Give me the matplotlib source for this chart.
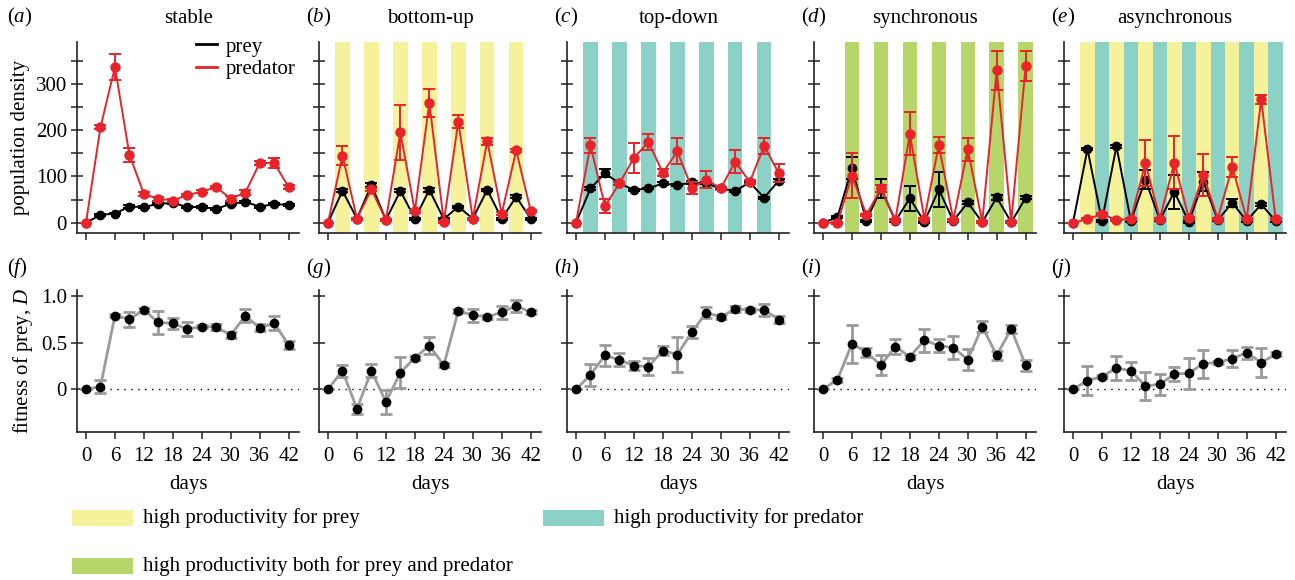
import matplotlib
matplotlib.use("Agg")
import matplotlib.pyplot as plt
from matplotlib.patches import Rectangle
import numpy as np

plt.rcParams['font.family'] = ['Liberation Serif', 'DejaVu Serif']
plt.rcParams['mathtext.fontset'] = 'custom'
plt.rcParams['mathtext.it'] = 'Liberation Serif:italic'
plt.rcParams['mathtext.rm'] = 'Liberation Serif'

days = [0, 3, 6, 9, 12, 15, 18, 21, 24, 27, 30, 33, 36, 39, 42]
day_ticks = [0, 6, 12, 18, 24, 30, 36, 42]

# population density (top row)
a_prey = [0, 17, 20, 35, 34, 41, 43, 34, 34, 30, 41, 45, 35, 40, 39]
a_prey_err = [0, 2, 2, 3, 2, 2, 2, 2, 2, 2, 2, 2, 2, 2, 2]
a_pred = [0, 206, 336, 147, 62, 52, 48, 60, 67, 77, 52, 65, 129, 129, 77]
a_pred_err = [0, 4, 28, 15, 5, 4, 3, 3, 3, 3, 5, 6, 4, 10, 4]

b_prey = [0, 69, 9, 82, 6, 69, 9, 71, 8, 35, 9, 71, 9, 56, 9]
b_prey_err = [0, 3, 2, 4, 2, 3, 2, 4, 2, 2, 2, 2, 2, 3, 2]
b_pred = [0, 145, 9, 72, 6, 195, 25, 259, 2, 218, 9, 176, 20, 156, 26]
b_pred_err = [0, 20, 2, 4, 2, 60, 3, 30, 2, 14, 2, 8, 3, 4, 2]

c_prey = [0, 74, 107, 85, 71, 74, 85, 81, 87, 85, 74, 69, 87, 54, 91]
c_prey_err = [0, 3, 9, 3, 2, 2, 3, 2, 3, 2, 2, 2, 2, 2, 4]
c_pred = [0, 167, 36, 85, 140, 174, 108, 154, 75, 93, 74, 132, 88, 166, 107]
c_pred_err = [0, 16, 15, 4, 32, 17, 8, 28, 13, 18, 3, 25, 4, 18, 20]

d_prey = [0, 12, 118, 4, 74, 4, 53, 2, 72, 4, 44, 1, 55, 1, 54]
d_prey_err = [0, 2, 24, 2, 21, 2, 27, 2, 37, 2, 3, 2, 5, 2, 3]
d_pred = [0, 0, 102, 17, 74, 6, 192, 9, 168, 6, 159, 2, 329, 2, 338]
d_pred_err = [0, 2, 48, 3, 8, 2, 46, 2, 18, 2, 25, 2, 42, 2, 33]

e_prey = [0, 159, 4, 165, 4, 93, 6, 67, 2, 89, 6, 43, 4, 40, 4]
e_prey_err = [0, 3, 2, 3, 2, 20, 2, 37, 2, 21, 2, 8, 2, 3, 2]
e_pred = [0, 8, 19, 6, 8, 129, 9, 130, 11, 103, 9, 121, 8, 266, 8]
e_pred_err = [0, 2, 3, 2, 2, 50, 2, 58, 2, 46, 2, 22, 2, 10, 2]

# fitness of prey D (bottom row)
f_D = [0, 0.03, 0.795, 0.755, 0.856, 0.72, 0.71, 0.65, 0.676, 0.67, 0.586, 0.79, 0.665, 0.71, 0.48]
f_err = [0, 0.075, 0.02, 0.08, 0.02, 0.12, 0.055, 0.08, 0.02, 0.03, 0.035, 0.07, 0.035, 0.075, 0.045]
g_D = [0, 0.2, -0.21, 0.2, -0.137, 0.18, 0.34, 0.47, 0.26, 0.845, 0.8, 0.78, 0.83, 0.9, 0.83]
g_err = [0, 0.065, 0.055, 0.07, 0.13, 0.17, 0.02, 0.09, 0.02, 0.02, 0.07, 0.02, 0.07, 0.065, 0.02]
h_D = [0, 0.155, 0.367, 0.317, 0.255, 0.245, 0.417, 0.374, 0.615, 0.827, 0.78, 0.867, 0.853, 0.856, 0.752]
h_err = [0, 0.115, 0.115, 0.07, 0.045, 0.09, 0.045, 0.19, 0.065, 0.06, 0.02, 0.035, 0.02, 0.065, 0.035]
i_D = [0, 0.104, 0.49, 0.4, 0.26, 0.46, 0.35, 0.53, 0.47, 0.45, 0.32, 0.676, 0.367, 0.65, 0.26]
i_err = [0, 0.02, 0.205, 0.05, 0.11, 0.08, 0.02, 0.125, 0.07, 0.125, 0.11, 0.06, 0.05, 0.045, 0.06]
j_D = [0, 0.094, 0.137, 0.23, 0.2, 0.036, 0.054, 0.165, 0.173, 0.277, 0.29, 0.33, 0.396, 0.288, 0.378]
j_err = [0, 0.155, 0.02, 0.13, 0.095, 0.15, 0.11, 0.075, 0.165, 0.15, 0.02, 0.09, 0.065, 0.155, 0.02]

top_titles = ['stable', 'bottom-up', 'top-down', 'synchronous', 'asynchronous']
top_letters = ['a', 'b', 'c', 'd', 'e']
bottom_letters = ['f', 'g', 'h', 'i', 'j']

pop_yticks = [0, 50, 100, 150, 200, 250, 300, 350]
pop_yticklabels = ['0', '', '100', '', '200', '', '300', '']
fit_yticks = [0, 0.5, 1.0]
fit_yticklabels = ['0', '0.5', '1.0']

YELLOW = '#F6F29B'
TEAL = '#8BD1C6'
GREEN = '#B6D66A'
RED = '#E8232A'
GREY = '#9B9B9B'

band_width = 3
bands = [
    [],
    [(c, YELLOW) for c in [3, 9, 15, 21, 27, 33, 39]],
    [(c, TEAL) for c in [3, 9, 15, 21, 27, 33, 39]],
    [(c, GREEN) for c in [6, 12, 18, 24, 30, 36, 42]],
    [(c, YELLOW) for c in [3, 9, 15, 21, 27, 33, 39]] + [(c, TEAL) for c in [6, 12, 18, 24, 30, 36, 42]],
]

prey_sets = [(a_prey, a_prey_err), (b_prey, b_prey_err), (c_prey, c_prey_err), (d_prey, d_prey_err), (e_prey, e_prey_err)]
pred_sets = [(a_pred, a_pred_err), (b_pred, b_pred_err), (c_pred, c_pred_err), (d_pred, d_pred_err), (e_pred, e_pred_err)]
fit_sets = [(f_D, f_err), (g_D, g_err), (h_D, h_err), (i_D, i_err), (j_D, j_err)]

W, H = 1295, 580
fig = plt.figure(figsize=(W / 100, H / 100), dpi=100)

lefts = [77.3, 319.3, 567.3, 814.3, 1064.3]
aw = 222
XLIM = (-1.8, 44.2)
FS = 15

def style(ax):
    for s in ['top', 'right']:
        ax.spines[s].set_visible(False)
    for s in ['left', 'bottom']:
        ax.spines[s].set_linewidth(1.2)
        ax.spines[s].set_color('#222222')
    ax.tick_params(axis='both', direction='out', length=5, width=1.1, labelsize=FS, color='#222222')
    ax.tick_params(axis='y', direction='inout', length=8)

for k in range(5):
    # top
    ax = fig.add_axes([lefts[k] / W, (H - 233) / H, aw / W, 191 / H])
    style(ax)
    for c, col in bands[k]:
        ax.axvspan(c - band_width / 2, c + band_width / 2, color=col, lw=0, zorder=0)
    py, pe = prey_sets[k]
    ax.errorbar(days, py, yerr=pe, color='black', lw=1.4, marker='o', ms=6,
                capsize=4, elinewidth=1.4, capthick=1.4, zorder=3, label='prey')
    pr, pre = pred_sets[k]
    ax.errorbar(days, pr, yerr=pre, color=RED, lw=1.4, marker='o', ms=6.5,
                capsize=4, elinewidth=1.4, capthick=1.4, zorder=4, label='predator')
    ax.set_xlim(*XLIM)
    ax.set_ylim(-22, 390)
    ax.set_xticks(day_ticks)
    ax.set_xticklabels([])
    ax.set_yticks(pop_yticks)
    if k == 0:
        ax.set_yticklabels(pop_yticklabels)
        ax.set_ylabel('population density', fontsize=FS, labelpad=4)
        hs, ls = ax.get_legend_handles_labels()
        from matplotlib.lines import Line2D
        hl = [Line2D([], [], color='black', lw=2), Line2D([], [], color=RED, lw=2)]
        ax.legend(hl, ['prey', 'predator'], loc='upper right', bbox_to_anchor=(1.02, 1.07),
                  frameon=False, fontsize=FS, handlelength=1.0, handletextpad=0.4,
                  labelspacing=0.15, borderaxespad=0)
    else:
        ax.set_yticklabels([])
    ax.set_title(top_titles[k], fontsize=FS, pad=14)
    fig.text((lefts[k] - 70 if k == 0 else lefts[k] - 13) / W, 1 - 17 / H,
             '($\\mathit{%s}$)' % top_letters[k], fontsize=FS, ha='left', va='center')

    # bottom
    ax2 = fig.add_axes([lefts[k] / W, (H - 432) / H, aw / W, 142 / H])
    style(ax2)
    D, De = fit_sets[k]
    ax2.plot([2, XLIM[1]], [0, 0], color='black', lw=1.0, ls=(0, (1, 4)), zorder=1)
    ax2.errorbar(days, D, yerr=De, color=GREY, lw=2, ecolor=GREY, elinewidth=2,
                 capsize=4, capthick=2, marker='o', ms=6, mfc='black', mec='black', zorder=3)
    ax2.set_xlim(*XLIM)
    ax2.set_ylim(-0.46, 1.07)
    ax2.set_xticks(day_ticks)
    ax2.set_xticklabels([str(d) for d in day_ticks])
    ax2.set_yticks(fit_yticks)
    ax2.tick_params(axis='x', pad=6)
    if k == 0:
        ax2.set_yticklabels(fit_yticklabels)
        ax2.set_ylabel('fitness of prey, $\\mathit{D}$', fontsize=FS, labelpad=4)
    else:
        ax2.set_yticklabels([])
    ax2.set_xlabel('days', fontsize=FS, labelpad=6)
    fig.text((lefts[k] - 70 if k == 0 else lefts[k] - 13) / W, 1 - 268 / H,
             '($\\mathit{%s}$)' % bottom_letters[k], fontsize=FS, ha='left', va='center')

# bottom legend
legend_items = [
    (72, 510, YELLOW, 'high productivity for prey'),
    (543, 510, TEAL, 'high productivity for predator'),
    (72, 558, GREEN, 'high productivity both for prey and predator'),
]
for x0, y0, col, txt in legend_items:
    fig.patches.append(Rectangle((x0 / W, 1 - (y0 + 16) / H), 61 / W, 16 / H,
                                 transform=fig.transFigure, color=col, lw=0))
    fig.text((x0 + 71) / W, 1 - (y0 + 8) / H, txt, fontsize=FS, ha='left', va='center')

fig.savefig('out.png', dpi=100)
